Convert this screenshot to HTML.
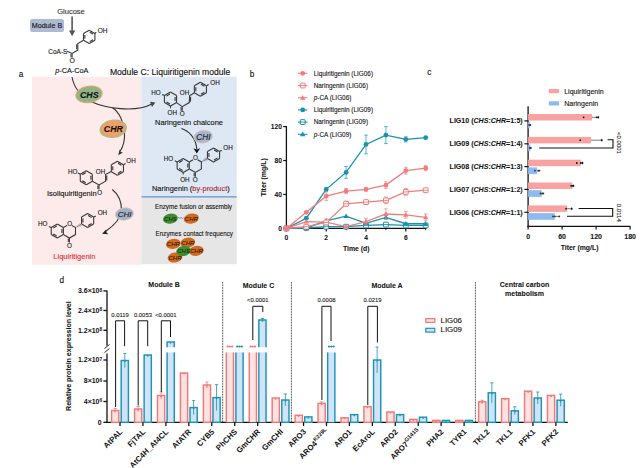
<!DOCTYPE html><html><head><meta charset="utf-8"><style>html,body{margin:0;padding:0;background:#fff;width:640px;height:468px;overflow:hidden;position:relative}svg text{font-family:"Liberation Sans", sans-serif}</style></head><body><svg width="640" height="468" viewBox="0 0 640 468" style="position:absolute;left:0;top:0">
<rect x="0" y="0" width="640" height="468" fill="#fff" stroke="none" stroke-width="0" />
<rect x="32" y="76.7" width="109.3" height="188.1" fill="#FDEAEA" stroke="none" stroke-width="0" />
<rect x="141.3" y="76.7" width="95.4" height="120" fill="#DDE8F4" stroke="none" stroke-width="0" />
<rect x="141.3" y="197.3" width="95.4" height="66.9" fill="#E6E6E6" stroke="none" stroke-width="0" />
<line x1="141.5" y1="196.8" x2="236.7" y2="196.8" stroke="#5B8FD0" stroke-width="1.3" />
<text x="21" y="76.6" font-size="8.2" text-anchor="middle" font-weight="normal" font-style="normal" fill="#111" stroke="#111" stroke-width="0.13" >a</text>
<text x="71" y="14.2" font-size="7.5" text-anchor="middle" font-weight="normal" font-style="normal" fill="#333" stroke="#333" stroke-width="0.12" >Glucose</text>
<rect x="30" y="19" width="34" height="13" rx="2.5" fill="#AEB9D3"/>
<text x="47" y="28.3" font-size="7.2" text-anchor="middle" font-weight="normal" font-style="normal" fill="#111" stroke="#111" stroke-width="0.12" >Module B</text>
<line x1="72.1" y1="16.5" x2="72.1" y2="31" stroke="#555" stroke-width="1.6" />
<path d="M69 30.5L75.3 30.5L72.1 36.3Z" stroke="none" stroke-width="0" fill="#555" />
<text x="48.3" y="53.7" font-size="6.5" text-anchor="start" font-weight="normal" font-style="normal" fill="#111" stroke="#111" stroke-width="0.1" >CoA-S</text>
<path d="M67.2 51.2L72.1 53.4L77.8 50.1L77.8 43.5L83.5 40.2" stroke="#3a3a3a" stroke-width="1.1" fill="none" />
<path d="M76.7 49.31L76.7 44.29" stroke="#3a3a3a" stroke-width="1.1" fill="none" />
<path d="M72.1 53.4L72.1 57.8" stroke="#3a3a3a" stroke-width="1.1" fill="none" />
<path d="M71 53.93L71 57.27" stroke="#3a3a3a" stroke-width="1.1" fill="none" />
<text x="72.1" y="63.35" font-size="6.8" text-anchor="middle" font-weight="normal" font-style="normal" fill="#111" stroke="#111" stroke-width="0.11" >O</text>
<path d="M89.2 30.3L94.92 33.6M94.92 33.6L94.92 40.2M94.92 40.2L89.2 43.5M89.2 43.5L83.48 40.2M83.48 40.2L83.48 33.6M83.48 33.6L89.2 30.3M89.72 32.18L93.02 34.09M93.02 39.71L89.72 41.62M84.86 38.81L84.86 34.99" stroke="#3a3a3a" stroke-width="1.1" fill="none" />
<path d="M94.92 33.6L96.2 32.2" stroke="#3a3a3a" stroke-width="1.1" fill="none" />
<text x="102.6" y="33.34" font-size="6.5" text-anchor="middle" font-weight="normal" font-style="normal" fill="#111" stroke="#111" stroke-width="0.1" >OH</text>
<text x="71.8" y="73.2" font-size="7.3" text-anchor="middle" font-weight="normal" font-style="normal" fill="#111" stroke="#111" stroke-width="0.12" ><tspan font-style="italic">p</tspan>-CA-CoA</text>
<text x="109.9" y="75.1" font-size="8.6" text-anchor="start" font-weight="normal" font-style="normal" fill="#111" stroke="#111" stroke-width="0.14" >Module C: Liquiritigenin module</text>
<path d="M72 77 C 74 88, 82 97, 92 102 C 105 108, 135 113, 152 104" stroke="#333" stroke-width="1.1" fill="none" />
<path d="M150.5 101.3 L155.5 103 L151.5 106.8 Z" stroke="none" stroke-width="0" fill="#444" transform="rotate(-10 153 104)"/>
<path d="M112.5 107.8 C 119 112, 124 122, 124.5 132 C 125 141, 123 147, 120 151.5" stroke="#333" stroke-width="1.1" fill="none" />
<path d="M118.2 155.2 L123 152.6 L120.6 151.9 L119.6 149.6 Z" stroke="none" stroke-width="0" fill="#333" />
<ellipse cx="89" cy="94.4" rx="13.2" ry="8.2" fill="#8EB486" stroke="#EBA572" stroke-width="1.1" transform="rotate(-8 89 94.4)"/>
<text x="89.3" y="97.6" font-size="8.8" text-anchor="middle" font-weight="bold" font-style="italic" fill="#111" stroke="#111" stroke-width="0.07" >CHS</text>
<ellipse cx="113.2" cy="128.8" rx="13.2" ry="8.6" fill="#EF9F6C" stroke="#9AC285" stroke-width="1.1" transform="rotate(-8 113.2 128.8)"/>
<text x="113.4" y="132" font-size="8.8" text-anchor="middle" font-weight="bold" font-style="italic" fill="#111" stroke="#111" stroke-width="0.07" >CHR</text>
<path d="M86.3 170.75L92.32 174.22M92.32 174.22L92.32 181.17M92.32 181.17L86.3 184.65M86.3 184.65L80.28 181.17M80.28 181.17L80.28 174.22M80.28 174.22L86.3 170.75M90.87 175.69L90.87 179.71M85.75 182.67L82.27 180.66M82.27 174.74L85.75 172.73" stroke="#3a3a3a" stroke-width="1.1" fill="none" />
<path d="M92.32 181.17L99 184.9L105.6 181.2L105.6 174.6L111.2 171.6" stroke="#3a3a3a" stroke-width="1.1" fill="none" />
<path d="M106.7 180.41L106.7 175.39" stroke="#3a3a3a" stroke-width="1.1" fill="none" />
<path d="M99 184.9L99 189.5" stroke="#3a3a3a" stroke-width="1.1" fill="none" />
<path d="M97.9 185.45L97.9 188.95" stroke="#3a3a3a" stroke-width="1.1" fill="none" />
<path d="M117.4 161.3L123.46 164.8M123.46 164.8L123.46 171.8M123.46 171.8L117.4 175.3M117.4 175.3L111.34 171.8M111.34 171.8L111.34 164.8M111.34 164.8L117.4 161.3M117.95 163.3L121.45 165.32M121.45 171.28L117.95 173.3M112.79 170.32L112.79 166.28" stroke="#3a3a3a" stroke-width="1.1" fill="none" />
<path d="M123.46 164.8L125.66 163.6" stroke="#3a3a3a" stroke-width="1.1" fill="none" />
<text x="131.06" y="163.47" font-size="6.3" text-anchor="middle" font-weight="normal" font-style="normal" fill="#111" stroke="#111" stroke-width="0.1" >OH</text>
<path d="M80.28 174.22L77.88 173.03" stroke="#3a3a3a" stroke-width="1.1" fill="none" />
<text x="72.68" y="173.69" font-size="6.3" text-anchor="middle" font-weight="normal" font-style="normal" fill="#111" stroke="#111" stroke-width="0.1" >HO</text>
<text x="100.52" y="173.69" font-size="6.3" text-anchor="middle" font-weight="normal" font-style="normal" fill="#111" stroke="#111" stroke-width="0.1" >OH</text>
<text x="99.6" y="194.57" font-size="6.3" text-anchor="middle" font-weight="normal" font-style="normal" fill="#111" stroke="#111" stroke-width="0.1" >O</text>
<text x="71.8" y="195.5" font-size="7.5" text-anchor="middle" font-weight="normal" font-style="normal" fill="#111" stroke="#111" stroke-width="0.12" >Isoliquiritigenin</text>
<path d="M112.3 189.5 C 118 194, 121.5 201, 121.5 210 C 121 219, 112 227, 105.5 231.5" stroke="#333" stroke-width="1.1" fill="none" />
<path d="M102 233.8 L108.3 234.2 L106.3 232.3 L106.2 229.4 Z" stroke="none" stroke-width="0" fill="#222" />
<ellipse cx="124.5" cy="214" rx="9.2" ry="6.2" fill="#A2B2CC" stroke="#E6C8B0" stroke-width="0.8" transform="rotate(-8 124.5 214)"/>
<text x="124.7" y="216.9" font-size="8" text-anchor="middle" font-weight="normal" font-style="italic" fill="#222" stroke="#222" stroke-width="0.13" >CHI</text>
<path d="M57.3 224.1L63.36 227.6M63.36 227.6L63.36 234.6M63.36 234.6L57.3 238.1M57.3 238.1L51.24 234.6M51.24 234.6L51.24 227.6M51.24 227.6L57.3 224.1M61.91 229.08L61.91 233.12M56.75 236.1L53.25 234.08M53.25 228.12L56.75 226.1" stroke="#3a3a3a" stroke-width="1.1" fill="none" />
<path d="M63.36 227.6L69.42 224.1L75.49 227.6L75.49 234.6L69.42 238.1L63.36 234.6" stroke="#3a3a3a" stroke-width="1.1" fill="none" />
<path d="M69.42 238.1L69.42 242.44" stroke="#3a3a3a" stroke-width="1.1" fill="none" />
<path d="M68.32 238.62L68.32 241.92" stroke="#3a3a3a" stroke-width="1.1" fill="none" />
<text x="69.42" y="247.61" font-size="6.3" text-anchor="middle" font-weight="normal" font-style="normal" fill="#111" stroke="#111" stroke-width="0.1" >O</text>
<circle cx="69.42" cy="224.1" r="2.6" fill="#FCE9E9"/>
<text x="69.62" y="226.17" font-size="6.3" text-anchor="middle" font-weight="normal" font-style="normal" fill="#111" stroke="#111" stroke-width="0.1" >O</text>
<path d="M76.24 226.57L76.76 227.47M77.14 225.8L77.87 227.07M78.04 225.02L78.99 226.68M78.94 224.25L80.11 226.28M79.85 223.48L81.23 225.89" stroke="#3a3a3a" stroke-width="0.6" fill="none" />
<path d="M87.61 213.6L93.67 217.1M93.67 217.1L93.67 224.1M93.67 224.1L87.61 227.6M87.61 227.6L81.55 224.1M81.55 224.1L81.55 217.1M81.55 217.1L87.61 213.6M88.16 215.6L91.67 217.62M91.67 223.58L88.16 225.6M83 222.62L83 218.58" stroke="#3a3a3a" stroke-width="1.1" fill="none" />
<path d="M93.67 217.1L95.87 215.9" stroke="#3a3a3a" stroke-width="1.1" fill="none" />
<text x="102.37" y="215.47" font-size="6.3" text-anchor="middle" font-weight="normal" font-style="normal" fill="#111" stroke="#111" stroke-width="0.1" >OH</text>
<path d="M51.24 227.6L48.84 226.4" stroke="#3a3a3a" stroke-width="1.1" fill="none" />
<text x="42.64" y="226.07" font-size="6.3" text-anchor="middle" font-weight="normal" font-style="normal" fill="#111" stroke="#111" stroke-width="0.1" >HO</text>
<text x="74.4" y="258.9" font-size="7.5" text-anchor="middle" font-weight="normal" font-style="normal" fill="#D9303A" stroke="#D9303A" stroke-width="0.12" >Liquiritigenin</text>
<path d="M170.5 92.1L176.56 95.6M176.56 95.6L176.56 102.6M176.56 102.6L170.5 106.1M170.5 106.1L164.44 102.6M164.44 102.6L164.44 95.6M164.44 95.6L170.5 92.1M175.11 97.08L175.11 101.12M169.95 104.1L166.45 102.08M166.45 96.12L169.95 94.1" stroke="#3a3a3a" stroke-width="1.1" fill="none" />
<path d="M176.56 102.6L182.2 106.7L189.3 102.6L189.6 95.8L194.3 92.7" stroke="#3a3a3a" stroke-width="1.1" fill="none" />
<path d="M190.43 101.83L190.66 96.66" stroke="#3a3a3a" stroke-width="1.1" fill="none" />
<path d="M182.2 106.7L182.2 110.9" stroke="#3a3a3a" stroke-width="1.1" fill="none" />
<path d="M181.1 107.2L181.1 110.4" stroke="#3a3a3a" stroke-width="1.1" fill="none" />
<path d="M200.4 82.2L206.46 85.7M206.46 85.7L206.46 92.7M206.46 92.7L200.4 96.2M200.4 96.2L194.34 92.7M194.34 92.7L194.34 85.7M194.34 85.7L200.4 82.2M200.95 84.2L204.45 86.22M204.45 92.18L200.95 94.2M195.79 91.22L195.79 87.18" stroke="#3a3a3a" stroke-width="1.1" fill="none" />
<path d="M206.46 85.7L208.66 84.5" stroke="#3a3a3a" stroke-width="1.1" fill="none" />
<text x="215" y="84.97" font-size="6.3" text-anchor="middle" font-weight="normal" font-style="normal" fill="#111" stroke="#111" stroke-width="0.1" >OH</text>
<path d="M164.44 95.6L162.04 94.4" stroke="#3a3a3a" stroke-width="1.1" fill="none" />
<text x="155.9" y="95.27" font-size="6.3" text-anchor="middle" font-weight="normal" font-style="normal" fill="#111" stroke="#111" stroke-width="0.1" >HO</text>
<text x="184.6" y="94.97" font-size="6.3" text-anchor="middle" font-weight="normal" font-style="normal" fill="#111" stroke="#111" stroke-width="0.1" >OH</text>
<path d="M170.5 106.1L170.5 108.3" stroke="#3a3a3a" stroke-width="1.1" fill="none" />
<text x="172.3" y="115.47" font-size="6.3" text-anchor="middle" font-weight="normal" font-style="normal" fill="#111" stroke="#111" stroke-width="0.1" >OH</text>
<text x="182.2" y="115.67" font-size="6.3" text-anchor="middle" font-weight="normal" font-style="normal" fill="#111" stroke="#111" stroke-width="0.1" >O</text>
<text x="189" y="125.2" font-size="7.45" text-anchor="middle" font-weight="normal" font-style="normal" fill="#111" stroke="#111" stroke-width="0.12" >Naringenin chalcone</text>
<path d="M181.4 128.5 C 189 131, 196 138, 196.8 149" stroke="#333" stroke-width="1.1" fill="none" />
<path d="M193.4 148.2 L196.8 153.4 L200.1 148.2 L196.8 149.6 Z" stroke="none" stroke-width="0" fill="#111" />
<ellipse cx="203.2" cy="136.7" rx="9.4" ry="6.4" fill="#A8B6CF" stroke="#E6C8B0" stroke-width="0.8" transform="rotate(-8 203.2 136.7)"/>
<text x="203.4" y="139.6" font-size="8.2" text-anchor="middle" font-weight="normal" font-style="italic" fill="#222" stroke="#222" stroke-width="0.13" >CHI</text>
<path d="M183.2 158.4L189.26 161.9M189.26 161.9L189.26 168.9M189.26 168.9L183.2 172.4M183.2 172.4L177.14 168.9M177.14 168.9L177.14 161.9M177.14 161.9L183.2 158.4M187.81 163.38L187.81 167.42M182.65 170.4L179.15 168.38M179.15 162.42L182.65 160.4" stroke="#3a3a3a" stroke-width="1.1" fill="none" />
<path d="M189.26 161.9L195.32 158.4L201.39 161.9L201.39 168.9L195.32 172.4L189.26 168.9" stroke="#3a3a3a" stroke-width="1.1" fill="none" />
<path d="M195.32 172.4L195.32 176.74" stroke="#3a3a3a" stroke-width="1.1" fill="none" />
<path d="M194.22 172.92L194.22 176.22" stroke="#3a3a3a" stroke-width="1.1" fill="none" />
<text x="195.32" y="181.91" font-size="6.3" text-anchor="middle" font-weight="normal" font-style="normal" fill="#111" stroke="#111" stroke-width="0.1" >O</text>
<circle cx="195.32" cy="158.4" r="2.6" fill="#DDE8F4"/>
<text x="195.52" y="160.47" font-size="6.3" text-anchor="middle" font-weight="normal" font-style="normal" fill="#111" stroke="#111" stroke-width="0.1" >O</text>
<path d="M202.14 160.87L202.66 161.77M203.04 160.1L203.77 161.37M203.94 159.32L204.89 160.98M204.84 158.55L206.01 160.58M205.75 157.78L207.13 160.19" stroke="#3a3a3a" stroke-width="0.6" fill="none" />
<path d="M213.51 147.9L219.57 151.4M219.57 151.4L219.57 158.4M219.57 158.4L213.51 161.9M213.51 161.9L207.45 158.4M207.45 158.4L207.45 151.4M207.45 151.4L213.51 147.9M214.06 149.9L217.57 151.92M217.57 157.88L214.06 159.9M208.9 156.92L208.9 152.88" stroke="#3a3a3a" stroke-width="1.1" fill="none" />
<path d="M219.57 151.4L221.77 150.2" stroke="#3a3a3a" stroke-width="1.1" fill="none" />
<text x="227.97" y="150.27" font-size="6.3" text-anchor="middle" font-weight="normal" font-style="normal" fill="#111" stroke="#111" stroke-width="0.1" >OH</text>
<path d="M177.14 161.9L174.74 160.7" stroke="#3a3a3a" stroke-width="1.1" fill="none" />
<text x="168.54" y="160.67" font-size="6.3" text-anchor="middle" font-weight="normal" font-style="normal" fill="#111" stroke="#111" stroke-width="0.1" >HO</text>
<path d="M183.2 172.4L183.2 174.6" stroke="#3a3a3a" stroke-width="1.1" fill="none" />
<text x="184.9" y="181.57" font-size="6.3" text-anchor="middle" font-weight="normal" font-style="normal" fill="#111" stroke="#111" stroke-width="0.1" >OH</text>
<text x="152" y="190.7" font-size="7.4" text-anchor="start" font-weight="normal" font-style="normal" fill="#111" stroke="#111" stroke-width="0.12" >Naringenin (<tspan fill="#D9303A">by-product</tspan>)</text>
<text x="193.5" y="208.9" font-size="6.3" text-anchor="middle" font-weight="normal" font-style="normal" fill="#111" stroke="#111" stroke-width="0.1" >Enzyme fusion or assembly</text>
<ellipse cx="170.4" cy="218.6" rx="7.4" ry="5" fill="#3E8E2E" stroke="none" stroke-width="0" transform="rotate(-10 170.4 218.6)"/>
<text x="170.4" y="220.8" font-size="6" text-anchor="middle" font-weight="normal" font-style="italic" fill="#1a2a10" stroke="#1a2a10" stroke-width="0.1" >CHS</text>
<path d="M177.5 218.3 l1.2 -1.2 l1.2 1.6 l1.2 -1.6 l1.2 1.6 l1.2 -1.2" stroke="#4A6AA8" stroke-width="0.6" fill="none" />
<ellipse cx="191.3" cy="218.6" rx="7.6" ry="5.1" fill="#D46A1E" stroke="none" stroke-width="0" transform="rotate(-10 191.3 218.6)"/>
<text x="191.3" y="220.8" font-size="6" text-anchor="middle" font-weight="normal" font-style="italic" fill="#2a1a10" stroke="#2a1a10" stroke-width="0.1" >CHR</text>
<text x="194.3" y="235.7" font-size="6.3" text-anchor="middle" font-weight="normal" font-style="normal" fill="#111" stroke="#111" stroke-width="0.1" >Enzymes contact frequency</text>
<ellipse cx="173.3" cy="243.9" rx="7.4" ry="5" fill="#D46A1E" stroke="none" stroke-width="0" transform="rotate(-10 173.3 243.9)"/>
<text x="173.3" y="246" font-size="6" text-anchor="middle" font-weight="normal" font-style="italic" fill="#2a1a10" stroke="#2a1a10" stroke-width="0.1" >CHR</text>
<ellipse cx="187.8" cy="242.6" rx="7.4" ry="5" fill="#D46A1E" stroke="none" stroke-width="0" transform="rotate(-10 187.8 242.6)"/>
<text x="187.8" y="244.7" font-size="6" text-anchor="middle" font-weight="normal" font-style="italic" fill="#2a1a10" stroke="#2a1a10" stroke-width="0.1" >CHR</text>
<ellipse cx="196.4" cy="250.8" rx="7.4" ry="5" fill="#D46A1E" stroke="none" stroke-width="0" transform="rotate(-10 196.4 250.8)"/>
<text x="196.4" y="252.9" font-size="6" text-anchor="middle" font-weight="normal" font-style="italic" fill="#2a1a10" stroke="#2a1a10" stroke-width="0.1" >CHR</text>
<ellipse cx="175" cy="257.5" rx="7.4" ry="5" fill="#D46A1E" stroke="none" stroke-width="0" transform="rotate(-10 175 257.5)"/>
<text x="175" y="259.6" font-size="6" text-anchor="middle" font-weight="normal" font-style="italic" fill="#2a1a10" stroke="#2a1a10" stroke-width="0.1" >CHR</text>
<ellipse cx="183.6" cy="251" rx="7.4" ry="5" fill="#3E8E2E" stroke="none" stroke-width="0" transform="rotate(-10 183.6 251)"/>
<text x="183.6" y="253.1" font-size="6" text-anchor="middle" font-weight="normal" font-style="italic" fill="#1a2a10" stroke="#1a2a10" stroke-width="0.1" >CHS</text>
<text x="252.1" y="77.2" font-size="8.2" text-anchor="middle" font-weight="normal" font-style="normal" fill="#111" stroke="#111" stroke-width="0.13" >b</text>
<line x1="286.4" y1="126" x2="286.4" y2="229" stroke="#111" stroke-width="1.3" />
<line x1="285.8" y1="228.4" x2="426.5" y2="228.4" stroke="#111" stroke-width="1.3" />
<line x1="283.2" y1="228.4" x2="286.4" y2="228.4" stroke="#111" stroke-width="1.2" />
<text x="282" y="230.8" font-size="6.7" text-anchor="end" font-weight="bold" font-style="normal" fill="#111" stroke="#111" stroke-width="0.05" >0</text>
<line x1="283.2" y1="194.47" x2="286.4" y2="194.47" stroke="#111" stroke-width="1.2" />
<text x="282" y="196.87" font-size="6.7" text-anchor="end" font-weight="bold" font-style="normal" fill="#111" stroke="#111" stroke-width="0.05" >40</text>
<line x1="283.2" y1="160.53" x2="286.4" y2="160.53" stroke="#111" stroke-width="1.2" />
<text x="282" y="162.93" font-size="6.7" text-anchor="end" font-weight="bold" font-style="normal" fill="#111" stroke="#111" stroke-width="0.05" >80</text>
<line x1="283.2" y1="126.6" x2="286.4" y2="126.6" stroke="#111" stroke-width="1.2" />
<text x="282" y="129" font-size="6.7" text-anchor="end" font-weight="bold" font-style="normal" fill="#111" stroke="#111" stroke-width="0.05" >120</text>
<line x1="286.4" y1="228.4" x2="286.4" y2="231.6" stroke="#111" stroke-width="1.2" />
<text x="286.4" y="239.9" font-size="6.7" text-anchor="middle" font-weight="bold" font-style="normal" fill="#111" stroke="#111" stroke-width="0.05" >0</text>
<line x1="326.2" y1="228.4" x2="326.2" y2="231.6" stroke="#111" stroke-width="1.2" />
<text x="326.2" y="239.9" font-size="6.7" text-anchor="middle" font-weight="bold" font-style="normal" fill="#111" stroke="#111" stroke-width="0.05" >2</text>
<line x1="366" y1="228.4" x2="366" y2="231.6" stroke="#111" stroke-width="1.2" />
<text x="366" y="239.9" font-size="6.7" text-anchor="middle" font-weight="bold" font-style="normal" fill="#111" stroke="#111" stroke-width="0.05" >4</text>
<line x1="405.8" y1="228.4" x2="405.8" y2="231.6" stroke="#111" stroke-width="1.2" />
<text x="405.8" y="239.9" font-size="6.7" text-anchor="middle" font-weight="bold" font-style="normal" fill="#111" stroke="#111" stroke-width="0.05" >6</text>
<line x1="306.3" y1="228.4" x2="306.3" y2="230.2" stroke="#111" stroke-width="0.9" />
<line x1="346.1" y1="228.4" x2="346.1" y2="230.2" stroke="#111" stroke-width="0.9" />
<line x1="385.9" y1="228.4" x2="385.9" y2="230.2" stroke="#111" stroke-width="0.9" />
<line x1="425.7" y1="228.4" x2="425.7" y2="230.2" stroke="#111" stroke-width="0.9" />
<text x="356.3" y="250.8" font-size="6.9" text-anchor="middle" font-weight="bold" font-style="normal" fill="#111" stroke="#111" stroke-width="0.06" >Time (d)</text>
<text x="266.3" y="177.3" font-size="7" text-anchor="middle" font-weight="bold" font-style="normal" fill="#111" stroke="#111" stroke-width="0.06" transform="rotate(-90 266.3 177.3)">Titer (mg/L)</text>
<polyline points="286.4,228.4 306.3,227.98 326.2,226.7 346.1,226.7 366,225.43 385.9,224.58 405.8,225.43 425.7,225.43" fill="none" stroke="#1893AD" stroke-width="1.3"/>
<rect x="284" y="226" width="4.8" height="4.8" rx="0.4" fill="#fff" stroke="#1893AD" stroke-width="1"/>
<line x1="284" y1="228.4" x2="288.8" y2="228.4" stroke="#1893AD" stroke-width="0.9" />
<rect x="303.9" y="225.58" width="4.8" height="4.8" rx="0.4" fill="#fff" stroke="#1893AD" stroke-width="1"/>
<line x1="303.9" y1="227.98" x2="308.7" y2="227.98" stroke="#1893AD" stroke-width="0.9" />
<rect x="323.8" y="224.3" width="4.8" height="4.8" rx="0.4" fill="#fff" stroke="#1893AD" stroke-width="1"/>
<line x1="323.8" y1="226.7" x2="328.6" y2="226.7" stroke="#1893AD" stroke-width="0.9" />
<rect x="343.7" y="224.3" width="4.8" height="4.8" rx="0.4" fill="#fff" stroke="#1893AD" stroke-width="1"/>
<line x1="343.7" y1="226.7" x2="348.5" y2="226.7" stroke="#1893AD" stroke-width="0.9" />
<rect x="363.6" y="223.03" width="4.8" height="4.8" rx="0.4" fill="#fff" stroke="#1893AD" stroke-width="1"/>
<line x1="363.6" y1="225.43" x2="368.4" y2="225.43" stroke="#1893AD" stroke-width="0.9" />
<rect x="383.5" y="222.18" width="4.8" height="4.8" rx="0.4" fill="#fff" stroke="#1893AD" stroke-width="1"/>
<line x1="383.5" y1="224.58" x2="388.3" y2="224.58" stroke="#1893AD" stroke-width="0.9" />
<rect x="403.4" y="223.03" width="4.8" height="4.8" rx="0.4" fill="#fff" stroke="#1893AD" stroke-width="1"/>
<line x1="403.4" y1="225.43" x2="408.2" y2="225.43" stroke="#1893AD" stroke-width="0.9" />
<rect x="423.3" y="223.03" width="4.8" height="4.8" rx="0.4" fill="#fff" stroke="#1893AD" stroke-width="1"/>
<line x1="423.3" y1="225.43" x2="428.1" y2="225.43" stroke="#1893AD" stroke-width="0.9" />
<polyline points="286.4,228.4 306.3,227.98 326.2,220.77 346.1,216.1 366,223.31 385.9,217.37 405.8,223.73 425.7,223.73" fill="none" stroke="#1893AD" stroke-width="1.3"/>
<line x1="385.9" y1="215.68" x2="385.9" y2="219.07" stroke="#1893AD" stroke-width="0.7" />
<line x1="384.1" y1="215.68" x2="387.7" y2="215.68" stroke="#1893AD" stroke-width="0.7" />
<line x1="384.1" y1="219.07" x2="387.7" y2="219.07" stroke="#1893AD" stroke-width="0.7" />
<path d="M286.4 225.7L289.1 230.4L283.7 230.4Z" fill="#1893AD"/>
<path d="M306.3 225.28L309 229.98L303.6 229.98Z" fill="#1893AD"/>
<path d="M326.2 218.07L328.9 222.77L323.5 222.77Z" fill="#1893AD"/>
<path d="M346.1 213.4L348.8 218.1L343.4 218.1Z" fill="#1893AD"/>
<path d="M366 220.61L368.7 225.31L363.3 225.31Z" fill="#1893AD"/>
<path d="M385.9 214.67L388.6 219.37L383.2 219.37Z" fill="#1893AD"/>
<path d="M405.8 221.03L408.5 225.73L403.1 225.73Z" fill="#1893AD"/>
<path d="M425.7 221.03L428.4 225.73L423 225.73Z" fill="#1893AD"/>
<polyline points="286.4,228.4 306.3,218.22 326.2,189.38 346.1,172.41 366,144.42 385.9,135.08 405.8,139.32 425.7,137.63" fill="none" stroke="#1893AD" stroke-width="1.3"/>
<line x1="326.2" y1="187.68" x2="326.2" y2="191.07" stroke="#1893AD" stroke-width="0.7" />
<line x1="324.4" y1="187.68" x2="328" y2="187.68" stroke="#1893AD" stroke-width="0.7" />
<line x1="324.4" y1="191.07" x2="328" y2="191.07" stroke="#1893AD" stroke-width="0.7" />
<line x1="346.1" y1="166.47" x2="346.1" y2="178.35" stroke="#1893AD" stroke-width="0.7" />
<line x1="344.3" y1="166.47" x2="347.9" y2="166.47" stroke="#1893AD" stroke-width="0.7" />
<line x1="344.3" y1="178.35" x2="347.9" y2="178.35" stroke="#1893AD" stroke-width="0.7" />
<line x1="366" y1="135.08" x2="366" y2="153.75" stroke="#1893AD" stroke-width="0.7" />
<line x1="364.2" y1="135.08" x2="367.8" y2="135.08" stroke="#1893AD" stroke-width="0.7" />
<line x1="364.2" y1="153.75" x2="367.8" y2="153.75" stroke="#1893AD" stroke-width="0.7" />
<line x1="385.9" y1="126.6" x2="385.9" y2="143.57" stroke="#1893AD" stroke-width="0.7" />
<line x1="384.1" y1="126.6" x2="387.7" y2="126.6" stroke="#1893AD" stroke-width="0.7" />
<line x1="384.1" y1="143.57" x2="387.7" y2="143.57" stroke="#1893AD" stroke-width="0.7" />
<line x1="405.8" y1="136.78" x2="405.8" y2="141.87" stroke="#1893AD" stroke-width="0.7" />
<line x1="404" y1="136.78" x2="407.6" y2="136.78" stroke="#1893AD" stroke-width="0.7" />
<line x1="404" y1="141.87" x2="407.6" y2="141.87" stroke="#1893AD" stroke-width="0.7" />
<circle cx="286.4" cy="228.4" r="2.4" fill="#1893AD"/>
<circle cx="306.3" cy="218.22" r="2.4" fill="#1893AD"/>
<circle cx="326.2" cy="189.38" r="2.4" fill="#1893AD"/>
<circle cx="346.1" cy="172.41" r="2.4" fill="#1893AD"/>
<circle cx="366" cy="144.42" r="2.4" fill="#1893AD"/>
<circle cx="385.9" cy="135.08" r="2.4" fill="#1893AD"/>
<circle cx="405.8" cy="139.32" r="2.4" fill="#1893AD"/>
<circle cx="425.7" cy="137.63" r="2.4" fill="#1893AD"/>
<polyline points="286.4,228.4 306.3,221.61 326.2,222.04 346.1,226.7 366,221.61 385.9,213.98 405.8,214.83 425.7,217.37" fill="none" stroke="#F27C7C" stroke-width="1.3"/>
<line x1="326.2" y1="219.07" x2="326.2" y2="225.01" stroke="#F27C7C" stroke-width="0.7" />
<line x1="324.4" y1="219.07" x2="328" y2="219.07" stroke="#F27C7C" stroke-width="0.7" />
<line x1="324.4" y1="225.01" x2="328" y2="225.01" stroke="#F27C7C" stroke-width="0.7" />
<line x1="366" y1="218.22" x2="366" y2="225.01" stroke="#F27C7C" stroke-width="0.7" />
<line x1="364.2" y1="218.22" x2="367.8" y2="218.22" stroke="#F27C7C" stroke-width="0.7" />
<line x1="364.2" y1="225.01" x2="367.8" y2="225.01" stroke="#F27C7C" stroke-width="0.7" />
<line x1="385.9" y1="208.89" x2="385.9" y2="219.07" stroke="#F27C7C" stroke-width="0.7" />
<line x1="384.1" y1="208.89" x2="387.7" y2="208.89" stroke="#F27C7C" stroke-width="0.7" />
<line x1="384.1" y1="219.07" x2="387.7" y2="219.07" stroke="#F27C7C" stroke-width="0.7" />
<line x1="405.8" y1="211.43" x2="405.8" y2="218.22" stroke="#F27C7C" stroke-width="0.7" />
<line x1="404" y1="211.43" x2="407.6" y2="211.43" stroke="#F27C7C" stroke-width="0.7" />
<line x1="404" y1="218.22" x2="407.6" y2="218.22" stroke="#F27C7C" stroke-width="0.7" />
<line x1="425.7" y1="213.98" x2="425.7" y2="220.77" stroke="#F27C7C" stroke-width="0.7" />
<line x1="423.9" y1="213.98" x2="427.5" y2="213.98" stroke="#F27C7C" stroke-width="0.7" />
<line x1="423.9" y1="220.77" x2="427.5" y2="220.77" stroke="#F27C7C" stroke-width="0.7" />
<path d="M286.4 225.7L289.1 230.4L283.7 230.4Z" fill="#F27C7C"/>
<path d="M306.3 218.91L309 223.61L303.6 223.61Z" fill="#F27C7C"/>
<path d="M326.2 219.34L328.9 224.04L323.5 224.04Z" fill="#F27C7C"/>
<path d="M346.1 224L348.8 228.7L343.4 228.7Z" fill="#F27C7C"/>
<path d="M366 218.91L368.7 223.61L363.3 223.61Z" fill="#F27C7C"/>
<path d="M385.9 211.28L388.6 215.98L383.2 215.98Z" fill="#F27C7C"/>
<path d="M405.8 212.13L408.5 216.83L403.1 216.83Z" fill="#F27C7C"/>
<path d="M425.7 214.67L428.4 219.37L423 219.37Z" fill="#F27C7C"/>
<polyline points="286.4,228.4 306.3,226.7 326.2,222.46 346.1,203.8 366,202.1 385.9,200.41 405.8,191.92 425.7,190.22" fill="none" stroke="#F27C7C" stroke-width="1.3"/>
<line x1="346.1" y1="201.25" x2="346.1" y2="206.34" stroke="#F27C7C" stroke-width="0.7" />
<line x1="344.3" y1="201.25" x2="347.9" y2="201.25" stroke="#F27C7C" stroke-width="0.7" />
<line x1="344.3" y1="206.34" x2="347.9" y2="206.34" stroke="#F27C7C" stroke-width="0.7" />
<line x1="366" y1="200.41" x2="366" y2="203.8" stroke="#F27C7C" stroke-width="0.7" />
<line x1="364.2" y1="200.41" x2="367.8" y2="200.41" stroke="#F27C7C" stroke-width="0.7" />
<line x1="364.2" y1="203.8" x2="367.8" y2="203.8" stroke="#F27C7C" stroke-width="0.7" />
<line x1="385.9" y1="197.01" x2="385.9" y2="203.8" stroke="#F27C7C" stroke-width="0.7" />
<line x1="384.1" y1="197.01" x2="387.7" y2="197.01" stroke="#F27C7C" stroke-width="0.7" />
<line x1="384.1" y1="203.8" x2="387.7" y2="203.8" stroke="#F27C7C" stroke-width="0.7" />
<line x1="405.8" y1="188.53" x2="405.8" y2="195.31" stroke="#F27C7C" stroke-width="0.7" />
<line x1="404" y1="188.53" x2="407.6" y2="188.53" stroke="#F27C7C" stroke-width="0.7" />
<line x1="404" y1="195.31" x2="407.6" y2="195.31" stroke="#F27C7C" stroke-width="0.7" />
<line x1="425.7" y1="188.53" x2="425.7" y2="191.92" stroke="#F27C7C" stroke-width="0.7" />
<line x1="423.9" y1="188.53" x2="427.5" y2="188.53" stroke="#F27C7C" stroke-width="0.7" />
<line x1="423.9" y1="191.92" x2="427.5" y2="191.92" stroke="#F27C7C" stroke-width="0.7" />
<rect x="284" y="226" width="4.8" height="4.8" rx="0.4" fill="#fff" stroke="#F27C7C" stroke-width="1"/>
<line x1="284" y1="228.4" x2="288.8" y2="228.4" stroke="#F27C7C" stroke-width="0.9" />
<rect x="303.9" y="224.3" width="4.8" height="4.8" rx="0.4" fill="#fff" stroke="#F27C7C" stroke-width="1"/>
<line x1="303.9" y1="226.7" x2="308.7" y2="226.7" stroke="#F27C7C" stroke-width="0.9" />
<rect x="323.8" y="220.06" width="4.8" height="4.8" rx="0.4" fill="#fff" stroke="#F27C7C" stroke-width="1"/>
<line x1="323.8" y1="222.46" x2="328.6" y2="222.46" stroke="#F27C7C" stroke-width="0.9" />
<rect x="343.7" y="201.4" width="4.8" height="4.8" rx="0.4" fill="#fff" stroke="#F27C7C" stroke-width="1"/>
<line x1="343.7" y1="203.8" x2="348.5" y2="203.8" stroke="#F27C7C" stroke-width="0.9" />
<rect x="363.6" y="199.7" width="4.8" height="4.8" rx="0.4" fill="#fff" stroke="#F27C7C" stroke-width="1"/>
<line x1="363.6" y1="202.1" x2="368.4" y2="202.1" stroke="#F27C7C" stroke-width="0.9" />
<rect x="383.5" y="198" width="4.8" height="4.8" rx="0.4" fill="#fff" stroke="#F27C7C" stroke-width="1"/>
<line x1="383.5" y1="200.41" x2="388.3" y2="200.41" stroke="#F27C7C" stroke-width="0.9" />
<rect x="403.4" y="189.52" width="4.8" height="4.8" rx="0.4" fill="#fff" stroke="#F27C7C" stroke-width="1"/>
<line x1="403.4" y1="191.92" x2="408.2" y2="191.92" stroke="#F27C7C" stroke-width="0.9" />
<rect x="423.3" y="187.82" width="4.8" height="4.8" rx="0.4" fill="#fff" stroke="#F27C7C" stroke-width="1"/>
<line x1="423.3" y1="190.22" x2="428.1" y2="190.22" stroke="#F27C7C" stroke-width="0.9" />
<polyline points="286.4,228.4 306.3,212.28 326.2,196.16 346.1,191.07 366,189.38 385.9,185.13 405.8,170.71 425.7,168.17" fill="none" stroke="#F27C7C" stroke-width="1.3"/>
<line x1="326.2" y1="191.92" x2="326.2" y2="200.41" stroke="#F27C7C" stroke-width="0.7" />
<line x1="324.4" y1="191.92" x2="328" y2="191.92" stroke="#F27C7C" stroke-width="0.7" />
<line x1="324.4" y1="200.41" x2="328" y2="200.41" stroke="#F27C7C" stroke-width="0.7" />
<line x1="346.1" y1="188.53" x2="346.1" y2="193.62" stroke="#F27C7C" stroke-width="0.7" />
<line x1="344.3" y1="188.53" x2="347.9" y2="188.53" stroke="#F27C7C" stroke-width="0.7" />
<line x1="344.3" y1="193.62" x2="347.9" y2="193.62" stroke="#F27C7C" stroke-width="0.7" />
<line x1="366" y1="187.68" x2="366" y2="191.07" stroke="#F27C7C" stroke-width="0.7" />
<line x1="364.2" y1="187.68" x2="367.8" y2="187.68" stroke="#F27C7C" stroke-width="0.7" />
<line x1="364.2" y1="191.07" x2="367.8" y2="191.07" stroke="#F27C7C" stroke-width="0.7" />
<line x1="385.9" y1="181.74" x2="385.9" y2="188.53" stroke="#F27C7C" stroke-width="0.7" />
<line x1="384.1" y1="181.74" x2="387.7" y2="181.74" stroke="#F27C7C" stroke-width="0.7" />
<line x1="384.1" y1="188.53" x2="387.7" y2="188.53" stroke="#F27C7C" stroke-width="0.7" />
<line x1="405.8" y1="167.32" x2="405.8" y2="174.11" stroke="#F27C7C" stroke-width="0.7" />
<line x1="404" y1="167.32" x2="407.6" y2="167.32" stroke="#F27C7C" stroke-width="0.7" />
<line x1="404" y1="174.11" x2="407.6" y2="174.11" stroke="#F27C7C" stroke-width="0.7" />
<line x1="425.7" y1="165.62" x2="425.7" y2="170.71" stroke="#F27C7C" stroke-width="0.7" />
<line x1="423.9" y1="165.62" x2="427.5" y2="165.62" stroke="#F27C7C" stroke-width="0.7" />
<line x1="423.9" y1="170.71" x2="427.5" y2="170.71" stroke="#F27C7C" stroke-width="0.7" />
<circle cx="286.4" cy="228.4" r="2.4" fill="#F27C7C"/>
<circle cx="306.3" cy="212.28" r="2.4" fill="#F27C7C"/>
<circle cx="326.2" cy="196.16" r="2.4" fill="#F27C7C"/>
<circle cx="346.1" cy="191.07" r="2.4" fill="#F27C7C"/>
<circle cx="366" cy="189.38" r="2.4" fill="#F27C7C"/>
<circle cx="385.9" cy="185.13" r="2.4" fill="#F27C7C"/>
<circle cx="405.8" cy="170.71" r="2.4" fill="#F27C7C"/>
<circle cx="425.7" cy="168.17" r="2.4" fill="#F27C7C"/>
<line x1="298" y1="73.3" x2="307.4" y2="73.3" stroke="#F27C7C" stroke-width="1.1" />
<circle cx="302.7" cy="73.3" r="2.4" fill="#F27C7C"/>
<text x="313.7" y="75.5" font-size="6.4" text-anchor="start" font-weight="normal" font-style="normal" fill="#111" stroke="#111" stroke-width="0.1" >Liquiritigenin (LIG06)</text>
<line x1="298" y1="85.5" x2="307.4" y2="85.5" stroke="#F27C7C" stroke-width="1.1" />
<rect x="300.3" y="83.1" width="4.8" height="4.8" rx="0.4" fill="#fff" stroke="#F27C7C" stroke-width="1"/>
<line x1="300.3" y1="85.5" x2="305.1" y2="85.5" stroke="#F27C7C" stroke-width="0.9" />
<text x="313.7" y="87.7" font-size="6.4" text-anchor="start" font-weight="normal" font-style="normal" fill="#111" stroke="#111" stroke-width="0.1" >Naringenin (LIG06)</text>
<line x1="298" y1="97.7" x2="307.4" y2="97.7" stroke="#F27C7C" stroke-width="1.1" />
<path d="M302.7 95L305.4 99.7L300 99.7Z" fill="#F27C7C"/>
<text x="313.7" y="99.9" font-size="6.4" text-anchor="start" font-weight="normal" font-style="normal" fill="#111" stroke="#111" stroke-width="0.1" ><tspan font-style="italic">p</tspan>-CA (LIG06)</text>
<line x1="298" y1="109.9" x2="307.4" y2="109.9" stroke="#1893AD" stroke-width="1.1" />
<circle cx="302.7" cy="109.9" r="2.4" fill="#1893AD"/>
<text x="313.7" y="112.1" font-size="6.4" text-anchor="start" font-weight="normal" font-style="normal" fill="#111" stroke="#111" stroke-width="0.1" >Liquiritigenin (LIG09)</text>
<line x1="298" y1="122.1" x2="307.4" y2="122.1" stroke="#1893AD" stroke-width="1.1" />
<rect x="300.3" y="119.7" width="4.8" height="4.8" rx="0.4" fill="#fff" stroke="#1893AD" stroke-width="1"/>
<line x1="300.3" y1="122.1" x2="305.1" y2="122.1" stroke="#1893AD" stroke-width="0.9" />
<text x="313.7" y="124.3" font-size="6.4" text-anchor="start" font-weight="normal" font-style="normal" fill="#111" stroke="#111" stroke-width="0.1" >Naringenin (LIG09)</text>
<line x1="298" y1="134.3" x2="307.4" y2="134.3" stroke="#1893AD" stroke-width="1.1" />
<path d="M302.7 131.6L305.4 136.3L300 136.3Z" fill="#1893AD"/>
<text x="313.7" y="136.5" font-size="6.4" text-anchor="start" font-weight="normal" font-style="normal" fill="#111" stroke="#111" stroke-width="0.1" ><tspan font-style="italic">p</tspan>-CA (LIG09)</text>
<text x="429.3" y="75.3" font-size="8.2" text-anchor="middle" font-weight="normal" font-style="normal" fill="#111" stroke="#111" stroke-width="0.13" >c</text>
<line x1="528.1" y1="106.2" x2="528.1" y2="226.9" stroke="#111" stroke-width="1.3" />
<line x1="527.5" y1="226.3" x2="630.3" y2="226.3" stroke="#111" stroke-width="1.3" />
<line x1="528.1" y1="226.3" x2="528.1" y2="229.5" stroke="#111" stroke-width="1.2" />
<text x="528.1" y="238.5" font-size="7" text-anchor="middle" font-weight="bold" font-style="normal" fill="#111" stroke="#111" stroke-width="0.06" >0</text>
<line x1="562.1" y1="226.3" x2="562.1" y2="229.5" stroke="#111" stroke-width="1.2" />
<text x="562.1" y="238.5" font-size="7" text-anchor="middle" font-weight="bold" font-style="normal" fill="#111" stroke="#111" stroke-width="0.06" >60</text>
<line x1="596.1" y1="226.3" x2="596.1" y2="229.5" stroke="#111" stroke-width="1.2" />
<text x="596.1" y="238.5" font-size="7" text-anchor="middle" font-weight="bold" font-style="normal" fill="#111" stroke="#111" stroke-width="0.06" >120</text>
<line x1="630.1" y1="226.3" x2="630.1" y2="229.5" stroke="#111" stroke-width="1.2" />
<text x="630.1" y="238.5" font-size="7" text-anchor="middle" font-weight="bold" font-style="normal" fill="#111" stroke="#111" stroke-width="0.06" >180</text>
<text x="579.6" y="249.5" font-size="6.9" text-anchor="middle" font-weight="bold" font-style="normal" fill="#111" stroke="#111" stroke-width="0.06" >Titer (mg/L)</text>
<rect x="528.1" y="114" width="64.03" height="6.5" fill="#F9A2A2" stroke="none" stroke-width="0" />
<rect x="528.1" y="121.7" width="1.7" height="6.7" fill="#8DBAF0" stroke="none" stroke-width="0" />
<line x1="524.4" y1="120.9" x2="528.1" y2="120.9" stroke="#111" stroke-width="1.2" />
<text x="522.7" y="123.4" font-size="7.05" text-anchor="end" font-weight="bold" font-style="normal" fill="#111" stroke="#111" stroke-width="0.06" >LIG10 (<tspan font-style="italic">CHS</tspan>:<tspan font-style="italic">CHR</tspan>=1:5)</text>
<line x1="592.13" y1="117.3" x2="598.37" y2="117.3" stroke="#222" stroke-width="0.6" />
<line x1="598.37" y1="115.9" x2="598.37" y2="118.7" stroke="#222" stroke-width="0.6" />
<circle cx="583.63" cy="117.3" r="0.9" fill="#111"/>
<circle cx="596.67" cy="117.3" r="0.9" fill="#111"/>
<circle cx="598.37" cy="117.3" r="0.9" fill="#111"/>
<line x1="529.8" y1="125" x2="530.37" y2="125" stroke="#222" stroke-width="0.6" />
<circle cx="529.23" cy="125" r="0.9" fill="#333"/>
<circle cx="530.37" cy="125" r="0.9" fill="#333"/>
<rect x="528.1" y="136.9" width="62.9" height="6.5" fill="#F9A2A2" stroke="none" stroke-width="0" />
<rect x="528.1" y="144.6" width="2.27" height="6.7" fill="#8DBAF0" stroke="none" stroke-width="0" />
<line x1="524.4" y1="143.8" x2="528.1" y2="143.8" stroke="#111" stroke-width="1.2" />
<text x="522.7" y="146.3" font-size="7.05" text-anchor="end" font-weight="bold" font-style="normal" fill="#111" stroke="#111" stroke-width="0.06" >LIG09 (<tspan font-style="italic">CHS</tspan>:<tspan font-style="italic">CHR</tspan>=1:4)</text>
<line x1="591" y1="140.2" x2="601.77" y2="140.2" stroke="#222" stroke-width="0.6" />
<line x1="601.77" y1="138.8" x2="601.77" y2="141.6" stroke="#222" stroke-width="0.6" />
<circle cx="580.23" cy="140.2" r="0.9" fill="#111"/>
<circle cx="601.77" cy="140.2" r="0.9" fill="#111"/>
<line x1="530.37" y1="147.9" x2="530.93" y2="147.9" stroke="#222" stroke-width="0.6" />
<circle cx="529.8" cy="147.9" r="0.9" fill="#333"/>
<circle cx="530.37" cy="147.9" r="0.9" fill="#333"/>
<circle cx="530.93" cy="147.9" r="0.9" fill="#333"/>
<rect x="528.1" y="159.7" width="52.7" height="6.5" fill="#F9A2A2" stroke="none" stroke-width="0" />
<rect x="528.1" y="167.4" width="9.07" height="6.7" fill="#8DBAF0" stroke="none" stroke-width="0" />
<line x1="524.4" y1="166.6" x2="528.1" y2="166.6" stroke="#111" stroke-width="1.2" />
<text x="522.7" y="169.1" font-size="7.05" text-anchor="end" font-weight="bold" font-style="normal" fill="#111" stroke="#111" stroke-width="0.06" >LIG08 (<tspan font-style="italic">CHS</tspan>:<tspan font-style="italic">CHR</tspan>=1:3)</text>
<line x1="580.8" y1="163" x2="582.5" y2="163" stroke="#222" stroke-width="0.6" />
<line x1="582.5" y1="161.6" x2="582.5" y2="164.4" stroke="#222" stroke-width="0.6" />
<circle cx="576.83" cy="163" r="0.9" fill="#111"/>
<circle cx="580.8" cy="163" r="0.9" fill="#111"/>
<circle cx="582.5" cy="163" r="0.9" fill="#111"/>
<line x1="537.17" y1="170.7" x2="539.43" y2="170.7" stroke="#222" stroke-width="0.6" />
<circle cx="534.9" cy="170.7" r="0.9" fill="#333"/>
<circle cx="538.3" cy="170.7" r="0.9" fill="#333"/>
<circle cx="539.43" cy="170.7" r="0.9" fill="#333"/>
<rect x="528.1" y="182.5" width="44.2" height="6.5" fill="#F9A2A2" stroke="none" stroke-width="0" />
<rect x="528.1" y="190.2" width="13.6" height="6.7" fill="#8DBAF0" stroke="none" stroke-width="0" />
<line x1="524.4" y1="189.4" x2="528.1" y2="189.4" stroke="#111" stroke-width="1.2" />
<text x="522.7" y="191.9" font-size="7.05" text-anchor="end" font-weight="bold" font-style="normal" fill="#111" stroke="#111" stroke-width="0.06" >LIG07 (<tspan font-style="italic">CHS</tspan>:<tspan font-style="italic">CHR</tspan>=1:2)</text>
<line x1="572.3" y1="185.8" x2="573.43" y2="185.8" stroke="#222" stroke-width="0.6" />
<line x1="573.43" y1="184.4" x2="573.43" y2="187.2" stroke="#222" stroke-width="0.6" />
<circle cx="571.17" cy="185.8" r="0.9" fill="#111"/>
<circle cx="572.3" cy="185.8" r="0.9" fill="#111"/>
<circle cx="573.43" cy="185.8" r="0.9" fill="#111"/>
<line x1="541.7" y1="193.5" x2="543.4" y2="193.5" stroke="#222" stroke-width="0.6" />
<circle cx="540.57" cy="193.5" r="0.9" fill="#333"/>
<circle cx="542.27" cy="193.5" r="0.9" fill="#333"/>
<circle cx="543.4" cy="193.5" r="0.9" fill="#333"/>
<rect x="528.1" y="205.4" width="39.1" height="6.5" fill="#F9A2A2" stroke="none" stroke-width="0" />
<rect x="528.1" y="213.1" width="26.63" height="6.7" fill="#8DBAF0" stroke="none" stroke-width="0" />
<line x1="524.4" y1="212.3" x2="528.1" y2="212.3" stroke="#111" stroke-width="1.2" />
<text x="522.7" y="214.8" font-size="7.05" text-anchor="end" font-weight="bold" font-style="normal" fill="#111" stroke="#111" stroke-width="0.06" >LIG06 (<tspan font-style="italic">CHS</tspan>:<tspan font-style="italic">CHR</tspan>=1:1)</text>
<line x1="567.2" y1="208.7" x2="571.73" y2="208.7" stroke="#222" stroke-width="0.6" />
<line x1="571.73" y1="207.3" x2="571.73" y2="210.1" stroke="#222" stroke-width="0.6" />
<circle cx="566.07" cy="208.7" r="0.9" fill="#111"/>
<circle cx="571.73" cy="208.7" r="0.9" fill="#111"/>
<line x1="554.73" y1="216.4" x2="559.27" y2="216.4" stroke="#222" stroke-width="0.6" />
<circle cx="553.03" cy="216.4" r="0.9" fill="#333"/>
<circle cx="554.73" cy="216.4" r="0.9" fill="#333"/>
<circle cx="559.27" cy="216.4" r="0.9" fill="#333"/>
<rect x="548.8" y="89" width="10.3" height="4.2" fill="#F9A2A2" stroke="none" stroke-width="0" />
<text x="564.2" y="93.6" font-size="7.05" text-anchor="start" font-weight="normal" font-style="normal" fill="#111" stroke="#111" stroke-width="0.11" >Liquiritigenin</text>
<rect x="548.8" y="101.3" width="10.3" height="4.2" fill="#8DBAF0" stroke="none" stroke-width="0" />
<text x="564.2" y="106" font-size="7.05" text-anchor="start" font-weight="normal" font-style="normal" fill="#111" stroke="#111" stroke-width="0.11" >Naringenin</text>
<polyline points="607.6,139.8 613,139.8 613,148 539.2,148" fill="none" stroke="#111" stroke-width="1.1"/>
<polyline points="578.6,208.5 612.7,208.5 612.7,216.2 567,216.2" fill="none" stroke="#111" stroke-width="1.1"/>
<text x="618.7" y="143" font-size="6" text-anchor="middle" font-weight="normal" font-style="normal" fill="#222" stroke="#222" stroke-width="0.1" transform="rotate(90 618.7 143)" dominant-baseline="central">&lt;0.0001</text>
<text x="618.5" y="212.8" font-size="6" text-anchor="middle" font-weight="normal" font-style="normal" fill="#222" stroke="#222" stroke-width="0.1" transform="rotate(90 618.5 212.8)" dominant-baseline="central">0.0114</text>
<text x="61.8" y="283.3" font-size="8.2" text-anchor="middle" font-weight="normal" font-style="normal" fill="#111" stroke="#111" stroke-width="0.13" >d</text>
<line x1="107" y1="290.4" x2="107" y2="345.8" stroke="#111" stroke-width="1.3" />
<line x1="107" y1="353.5" x2="107" y2="422.9" stroke="#111" stroke-width="1.3" />
<line x1="104.5" y1="348.5" x2="109.5" y2="344.5" stroke="#111" stroke-width="0.9" />
<line x1="104.5" y1="352.5" x2="109.5" y2="348.5" stroke="#111" stroke-width="0.9" />
<line x1="106.4" y1="422.3" x2="567.8" y2="422.3" stroke="#111" stroke-width="1.3" />
<line x1="103.4" y1="290.9" x2="107" y2="290.9" stroke="#111" stroke-width="1.3" />
<text x="102.2" y="293.3" font-size="7" font-weight="bold" text-anchor="end" fill="#111">3.6×10<tspan font-size="4.8" dy="-1.7">8</tspan></text>
<line x1="103.4" y1="310.5" x2="107" y2="310.5" stroke="#111" stroke-width="1.3" />
<text x="102.2" y="312.9" font-size="7" font-weight="bold" text-anchor="end" fill="#111">2.4×10<tspan font-size="4.8" dy="-1.7">8</tspan></text>
<line x1="103.4" y1="330.3" x2="107" y2="330.3" stroke="#111" stroke-width="1.3" />
<text x="102.2" y="332.7" font-size="7" font-weight="bold" text-anchor="end" fill="#111">1.2×10<tspan font-size="4.8" dy="-1.7">8</tspan></text>
<line x1="103.4" y1="360" x2="107" y2="360" stroke="#111" stroke-width="1.3" />
<text x="102.2" y="362.4" font-size="7" font-weight="bold" text-anchor="end" fill="#111">1.2×10<tspan font-size="4.8" dy="-1.7">7</tspan></text>
<line x1="103.4" y1="381" x2="107" y2="381" stroke="#111" stroke-width="1.3" />
<text x="102.2" y="383.4" font-size="7" font-weight="bold" text-anchor="end" fill="#111">8×10<tspan font-size="4.8" dy="-1.7">6</tspan></text>
<line x1="103.4" y1="401.5" x2="107" y2="401.5" stroke="#111" stroke-width="1.3" />
<text x="102.2" y="403.9" font-size="7" font-weight="bold" text-anchor="end" fill="#111">4×10<tspan font-size="4.8" dy="-1.7">6</tspan></text>
<line x1="103.4" y1="422.3" x2="107" y2="422.3" stroke="#111" stroke-width="1.3" />
<text x="101.5" y="424.8" font-size="6.8" text-anchor="end" font-weight="bold" font-style="normal" fill="#111" stroke="#111" stroke-width="0.05" >0</text>
<text x="70.6" y="356.1" font-size="7.05" text-anchor="middle" font-weight="bold" font-style="normal" fill="#111" stroke="#111" stroke-width="0.06" transform="rotate(-90 70.6 356.1)">Relative protein expression level</text>
<line x1="120" y1="422.3" x2="120" y2="426.1" stroke="#111" stroke-width="1.3" />
<text x="123" y="432.3" font-size="7.8" font-weight="bold" text-anchor="end" fill="#111" transform="rotate(-45 123 432.3)">AtPAL</text>
<line x1="142.94" y1="422.3" x2="142.94" y2="426.1" stroke="#111" stroke-width="1.3" />
<text x="145.94" y="432.3" font-size="7.8" font-weight="bold" text-anchor="end" fill="#111" transform="rotate(-45 145.94 432.3)">FjTAL</text>
<line x1="165.88" y1="422.3" x2="165.88" y2="426.1" stroke="#111" stroke-width="1.3" />
<text x="168.88" y="432.3" font-size="7.8" font-weight="bold" text-anchor="end" fill="#111" transform="rotate(-45 168.88 432.3)">AtC4H_At4CL</text>
<line x1="188.82" y1="422.3" x2="188.82" y2="426.1" stroke="#111" stroke-width="1.3" />
<text x="191.82" y="432.3" font-size="7.8" font-weight="bold" text-anchor="end" fill="#111" transform="rotate(-45 191.82 432.3)">AtATR</text>
<line x1="211.76" y1="422.3" x2="211.76" y2="426.1" stroke="#111" stroke-width="1.3" />
<text x="214.76" y="432.3" font-size="7.8" font-weight="bold" text-anchor="end" fill="#111" transform="rotate(-45 214.76 432.3)">CYB5</text>
<line x1="234.7" y1="422.3" x2="234.7" y2="426.1" stroke="#111" stroke-width="1.3" />
<text x="237.7" y="432.3" font-size="7.8" font-weight="bold" text-anchor="end" fill="#111" transform="rotate(-45 237.7 432.3)">PhCHS</text>
<line x1="257.64" y1="422.3" x2="257.64" y2="426.1" stroke="#111" stroke-width="1.3" />
<text x="260.64" y="432.3" font-size="7.8" font-weight="bold" text-anchor="end" fill="#111" transform="rotate(-45 260.64 432.3)">GmCHR</text>
<line x1="280.58" y1="422.3" x2="280.58" y2="426.1" stroke="#111" stroke-width="1.3" />
<text x="283.58" y="432.3" font-size="7.8" font-weight="bold" text-anchor="end" fill="#111" transform="rotate(-45 283.58 432.3)">GmCHI</text>
<line x1="303.52" y1="422.3" x2="303.52" y2="426.1" stroke="#111" stroke-width="1.3" />
<text x="306.52" y="432.3" font-size="7.8" font-weight="bold" text-anchor="end" fill="#111" transform="rotate(-45 306.52 432.3)">ARO3</text>
<line x1="326.46" y1="422.3" x2="326.46" y2="426.1" stroke="#111" stroke-width="1.3" />
<text x="329.46" y="432.3" font-size="7.8" font-weight="bold" text-anchor="end" fill="#111" transform="rotate(-45 329.46 432.3)">ARO4<tspan font-size="5.6" dy="-3.4">K229L</tspan></text>
<line x1="349.4" y1="422.3" x2="349.4" y2="426.1" stroke="#111" stroke-width="1.3" />
<text x="352.4" y="432.3" font-size="7.8" font-weight="bold" text-anchor="end" fill="#111" transform="rotate(-45 352.4 432.3)">ARO1</text>
<line x1="372.34" y1="422.3" x2="372.34" y2="426.1" stroke="#111" stroke-width="1.3" />
<text x="375.34" y="432.3" font-size="7.8" font-weight="bold" text-anchor="end" fill="#111" transform="rotate(-45 375.34 432.3)">EcAroL</text>
<line x1="395.28" y1="422.3" x2="395.28" y2="426.1" stroke="#111" stroke-width="1.3" />
<text x="398.28" y="432.3" font-size="7.8" font-weight="bold" text-anchor="end" fill="#111" transform="rotate(-45 398.28 432.3)">ARO2</text>
<line x1="418.22" y1="422.3" x2="418.22" y2="426.1" stroke="#111" stroke-width="1.3" />
<text x="421.22" y="432.3" font-size="7.8" font-weight="bold" text-anchor="end" fill="#111" transform="rotate(-45 421.22 432.3)">ARO7<tspan font-size="5.6" dy="-3.4">G141S</tspan></text>
<line x1="441.16" y1="422.3" x2="441.16" y2="426.1" stroke="#111" stroke-width="1.3" />
<text x="444.16" y="432.3" font-size="7.8" font-weight="bold" text-anchor="end" fill="#111" transform="rotate(-45 444.16 432.3)">PHA2</text>
<line x1="464.1" y1="422.3" x2="464.1" y2="426.1" stroke="#111" stroke-width="1.3" />
<text x="467.1" y="432.3" font-size="7.8" font-weight="bold" text-anchor="end" fill="#111" transform="rotate(-45 467.1 432.3)">TYR1</text>
<line x1="487.04" y1="422.3" x2="487.04" y2="426.1" stroke="#111" stroke-width="1.3" />
<text x="490.04" y="432.3" font-size="7.8" font-weight="bold" text-anchor="end" fill="#111" transform="rotate(-45 490.04 432.3)">TKL2</text>
<line x1="509.98" y1="422.3" x2="509.98" y2="426.1" stroke="#111" stroke-width="1.3" />
<text x="512.98" y="432.3" font-size="7.8" font-weight="bold" text-anchor="end" fill="#111" transform="rotate(-45 512.98 432.3)">TKL1</text>
<line x1="532.92" y1="422.3" x2="532.92" y2="426.1" stroke="#111" stroke-width="1.3" />
<text x="535.92" y="432.3" font-size="7.8" font-weight="bold" text-anchor="end" fill="#111" transform="rotate(-45 535.92 432.3)">PFK1</text>
<line x1="555.86" y1="422.3" x2="555.86" y2="426.1" stroke="#111" stroke-width="1.3" />
<text x="558.86" y="432.3" font-size="7.8" font-weight="bold" text-anchor="end" fill="#111" transform="rotate(-45 558.86 432.3)">PFK2</text>
<rect x="111.6" y="410.5" width="7.2" height="11.8" fill="#FDE2E2" stroke="#F07878" stroke-width="1.45"/>
<rect x="121.2" y="360.5" width="7.2" height="61.8" fill="#D0E3F8" stroke="#1C94B4" stroke-width="1.45"/>
<line x1="115.2" y1="408.5" x2="115.2" y2="412.5" stroke="#F07878" stroke-width="0.8" />
<line x1="113.6" y1="408.5" x2="116.8" y2="408.5" stroke="#F07878" stroke-width="0.8" />
<circle cx="115.2" cy="411.5" r="0.8" fill="#F07878"/>
<line x1="124.8" y1="353.5" x2="124.8" y2="367.5" stroke="#1C94B4" stroke-width="0.8" />
<line x1="123.2" y1="353.5" x2="126.4" y2="353.5" stroke="#1C94B4" stroke-width="0.8" />
<circle cx="124.8" cy="361.5" r="0.8" fill="#1C94B4"/>
<rect x="134.54" y="409" width="7.2" height="13.3" fill="#FDE2E2" stroke="#F07878" stroke-width="1.45"/>
<rect x="144.14" y="355" width="7.2" height="67.3" fill="#D0E3F8" stroke="#1C94B4" stroke-width="1.45"/>
<line x1="138.14" y1="406.5" x2="138.14" y2="411.5" stroke="#F07878" stroke-width="0.8" />
<line x1="136.54" y1="406.5" x2="139.74" y2="406.5" stroke="#F07878" stroke-width="0.8" />
<circle cx="138.14" cy="410" r="0.8" fill="#F07878"/>
<circle cx="147.74" cy="356" r="0.8" fill="#1C94B4"/>
<rect x="157.48" y="395.5" width="7.2" height="26.8" fill="#FDE2E2" stroke="#F07878" stroke-width="1.45"/>
<rect x="167.08" y="342" width="7.2" height="5.2" fill="#D0E3F8"/>
<path d="M167.08 347.2V342H174.28V347.2" fill="none" stroke="#1C94B4" stroke-width="1.45"/>
<rect x="167.08" y="352.4" width="7.2" height="69.9" fill="#D0E3F8"/>
<line x1="167.08" y1="352.4" x2="167.08" y2="422.3" stroke="#1C94B4" stroke-width="1.45" />
<line x1="174.28" y1="352.4" x2="174.28" y2="422.3" stroke="#1C94B4" stroke-width="1.45" />
<line x1="161.08" y1="392" x2="161.08" y2="399" stroke="#F07878" stroke-width="0.8" />
<line x1="159.48" y1="392" x2="162.68" y2="392" stroke="#F07878" stroke-width="0.8" />
<circle cx="161.08" cy="396.5" r="0.8" fill="#F07878"/>
<circle cx="170.68" cy="343" r="0.8" fill="#1C94B4"/>
<rect x="180.42" y="373" width="7.2" height="49.3" fill="#FDE2E2" stroke="#F07878" stroke-width="1.45"/>
<rect x="190.02" y="407.6" width="7.2" height="14.7" fill="#D0E3F8" stroke="#1C94B4" stroke-width="1.45"/>
<circle cx="184.02" cy="374" r="0.8" fill="#F07878"/>
<line x1="193.62" y1="400.6" x2="193.62" y2="414.6" stroke="#1C94B4" stroke-width="0.8" />
<line x1="192.02" y1="400.6" x2="195.22" y2="400.6" stroke="#1C94B4" stroke-width="0.8" />
<circle cx="193.62" cy="408.6" r="0.8" fill="#1C94B4"/>
<rect x="203.36" y="385" width="7.2" height="37.3" fill="#FDE2E2" stroke="#F07878" stroke-width="1.45"/>
<rect x="212.96" y="397.6" width="7.2" height="24.7" fill="#D0E3F8" stroke="#1C94B4" stroke-width="1.45"/>
<line x1="206.96" y1="382" x2="206.96" y2="388" stroke="#F07878" stroke-width="0.8" />
<line x1="205.36" y1="382" x2="208.56" y2="382" stroke="#F07878" stroke-width="0.8" />
<circle cx="206.96" cy="386" r="0.8" fill="#F07878"/>
<line x1="216.56" y1="384.6" x2="216.56" y2="410.6" stroke="#1C94B4" stroke-width="0.8" />
<line x1="214.96" y1="384.6" x2="218.16" y2="384.6" stroke="#1C94B4" stroke-width="0.8" />
<circle cx="216.56" cy="398.6" r="0.8" fill="#1C94B4"/>
<rect x="226.3" y="352.4" width="7.2" height="69.9" fill="#FDE2E2"/>
<line x1="226.3" y1="352.4" x2="226.3" y2="422.3" stroke="#F07878" stroke-width="1.45" />
<line x1="233.5" y1="352.4" x2="233.5" y2="422.3" stroke="#F07878" stroke-width="1.45" />
<line x1="226.6" y1="346.6" x2="233.2" y2="346.6" stroke="#F07878" stroke-width="0.9" />
<circle cx="227.6" cy="346.6" r="1.0" fill="#F07878"/>
<circle cx="229.9" cy="346.6" r="1.0" fill="#F07878"/>
<circle cx="232.2" cy="346.6" r="1.0" fill="#F07878"/>
<rect x="235.9" y="352.4" width="7.2" height="69.9" fill="#D0E3F8"/>
<line x1="235.9" y1="352.4" x2="235.9" y2="422.3" stroke="#1C94B4" stroke-width="1.45" />
<line x1="243.1" y1="352.4" x2="243.1" y2="422.3" stroke="#1C94B4" stroke-width="1.45" />
<line x1="236.2" y1="346.6" x2="242.8" y2="346.6" stroke="#1C94B4" stroke-width="0.9" />
<circle cx="237.2" cy="346.6" r="1.0" fill="#1C94B4"/>
<circle cx="239.5" cy="346.6" r="1.0" fill="#1C94B4"/>
<circle cx="241.8" cy="346.6" r="1.0" fill="#1C94B4"/>
<rect x="249.24" y="352.4" width="7.2" height="69.9" fill="#FDE2E2"/>
<line x1="249.24" y1="352.4" x2="249.24" y2="422.3" stroke="#F07878" stroke-width="1.45" />
<line x1="256.44" y1="352.4" x2="256.44" y2="422.3" stroke="#F07878" stroke-width="1.45" />
<line x1="249.54" y1="346.6" x2="256.14" y2="346.6" stroke="#F07878" stroke-width="0.9" />
<circle cx="250.54" cy="346.6" r="1.0" fill="#F07878"/>
<circle cx="252.84" cy="346.6" r="1.0" fill="#F07878"/>
<circle cx="255.14" cy="346.6" r="1.0" fill="#F07878"/>
<rect x="258.84" y="320" width="7.2" height="27.2" fill="#D0E3F8"/>
<path d="M258.84 347.2V320H266.04V347.2" fill="none" stroke="#1C94B4" stroke-width="1.45"/>
<rect x="258.84" y="352.4" width="7.2" height="69.9" fill="#D0E3F8"/>
<line x1="258.84" y1="352.4" x2="258.84" y2="422.3" stroke="#1C94B4" stroke-width="1.45" />
<line x1="266.04" y1="352.4" x2="266.04" y2="422.3" stroke="#1C94B4" stroke-width="1.45" />
<line x1="262.44" y1="318.5" x2="262.44" y2="321.5" stroke="#1C94B4" stroke-width="0.8" />
<line x1="260.84" y1="318.5" x2="264.04" y2="318.5" stroke="#1C94B4" stroke-width="0.8" />
<circle cx="262.44" cy="321" r="0.8" fill="#1C94B4"/>
<rect x="272.18" y="398" width="7.2" height="24.3" fill="#FDE2E2" stroke="#F07878" stroke-width="1.45"/>
<rect x="281.78" y="400" width="7.2" height="22.3" fill="#D0E3F8" stroke="#1C94B4" stroke-width="1.45"/>
<circle cx="275.78" cy="399" r="0.8" fill="#F07878"/>
<line x1="285.38" y1="394" x2="285.38" y2="406" stroke="#1C94B4" stroke-width="0.8" />
<line x1="283.78" y1="394" x2="286.98" y2="394" stroke="#1C94B4" stroke-width="0.8" />
<circle cx="285.38" cy="401" r="0.8" fill="#1C94B4"/>
<rect x="295.12" y="415.3" width="7.2" height="7" fill="#FDE2E2" stroke="#F07878" stroke-width="1.45"/>
<rect x="304.72" y="416.9" width="7.2" height="5.4" fill="#D0E3F8" stroke="#1C94B4" stroke-width="1.45"/>
<circle cx="298.72" cy="416.3" r="0.8" fill="#F07878"/>
<circle cx="308.32" cy="417.9" r="0.8" fill="#1C94B4"/>
<rect x="318.06" y="403.4" width="7.2" height="18.9" fill="#FDE2E2" stroke="#F07878" stroke-width="1.45"/>
<rect x="327.66" y="352.4" width="7.2" height="69.9" fill="#D0E3F8"/>
<line x1="327.66" y1="352.4" x2="327.66" y2="422.3" stroke="#1C94B4" stroke-width="1.45" />
<line x1="334.86" y1="352.4" x2="334.86" y2="422.3" stroke="#1C94B4" stroke-width="1.45" />
<line x1="327.96" y1="346.6" x2="334.56" y2="346.6" stroke="#1C94B4" stroke-width="0.9" />
<circle cx="328.96" cy="346.6" r="1.0" fill="#1C94B4"/>
<circle cx="331.26" cy="346.6" r="1.0" fill="#1C94B4"/>
<circle cx="333.56" cy="346.6" r="1.0" fill="#1C94B4"/>
<line x1="321.66" y1="401.9" x2="321.66" y2="404.9" stroke="#F07878" stroke-width="0.8" />
<line x1="320.06" y1="401.9" x2="323.26" y2="401.9" stroke="#F07878" stroke-width="0.8" />
<circle cx="321.66" cy="404.4" r="0.8" fill="#F07878"/>
<rect x="341" y="417.8" width="7.2" height="4.5" fill="#FDE2E2" stroke="#F07878" stroke-width="1.45"/>
<rect x="350.6" y="414.6" width="7.2" height="7.7" fill="#D0E3F8" stroke="#1C94B4" stroke-width="1.45"/>
<circle cx="344.6" cy="418.8" r="0.8" fill="#F07878"/>
<circle cx="354.2" cy="415.6" r="0.8" fill="#1C94B4"/>
<rect x="363.94" y="406.6" width="7.2" height="15.7" fill="#FDE2E2" stroke="#F07878" stroke-width="1.45"/>
<rect x="373.54" y="360" width="7.2" height="62.3" fill="#D0E3F8" stroke="#1C94B4" stroke-width="1.45"/>
<circle cx="367.54" cy="407.6" r="0.8" fill="#F07878"/>
<line x1="377.14" y1="347" x2="377.14" y2="373" stroke="#1C94B4" stroke-width="0.8" />
<line x1="375.54" y1="347" x2="378.74" y2="347" stroke="#1C94B4" stroke-width="0.8" />
<circle cx="377.14" cy="361" r="0.8" fill="#1C94B4"/>
<rect x="386.88" y="412" width="7.2" height="10.3" fill="#FDE2E2" stroke="#F07878" stroke-width="1.45"/>
<rect x="396.48" y="414.6" width="7.2" height="7.7" fill="#D0E3F8" stroke="#1C94B4" stroke-width="1.45"/>
<circle cx="390.48" cy="413" r="0.8" fill="#F07878"/>
<circle cx="400.08" cy="415.6" r="0.8" fill="#1C94B4"/>
<rect x="409.82" y="419.4" width="7.2" height="2.9" fill="#FDE2E2" stroke="#F07878" stroke-width="1.45"/>
<rect x="419.42" y="417.2" width="7.2" height="5.1" fill="#D0E3F8" stroke="#1C94B4" stroke-width="1.45"/>
<circle cx="413.42" cy="420.4" r="0.8" fill="#F07878"/>
<circle cx="423.02" cy="418.2" r="0.8" fill="#1C94B4"/>
<rect x="432.76" y="420.4" width="7.2" height="1.9" fill="#FDE2E2" stroke="#F07878" stroke-width="1.45"/>
<rect x="442.36" y="420.4" width="7.2" height="1.9" fill="#D0E3F8" stroke="#1C94B4" stroke-width="1.45"/>
<circle cx="436.36" cy="421.4" r="0.8" fill="#F07878"/>
<circle cx="445.96" cy="421.4" r="0.8" fill="#1C94B4"/>
<rect x="455.7" y="420.4" width="7.2" height="1.9" fill="#FDE2E2" stroke="#F07878" stroke-width="1.45"/>
<rect x="465.3" y="420.4" width="7.2" height="1.9" fill="#D0E3F8" stroke="#1C94B4" stroke-width="1.45"/>
<circle cx="459.3" cy="421.4" r="0.8" fill="#F07878"/>
<circle cx="468.9" cy="421.4" r="0.8" fill="#1C94B4"/>
<rect x="478.64" y="401.8" width="7.2" height="20.5" fill="#FDE2E2" stroke="#F07878" stroke-width="1.45"/>
<rect x="488.24" y="392.8" width="7.2" height="29.5" fill="#D0E3F8" stroke="#1C94B4" stroke-width="1.45"/>
<line x1="482.24" y1="400.3" x2="482.24" y2="403.3" stroke="#F07878" stroke-width="0.8" />
<line x1="480.64" y1="400.3" x2="483.84" y2="400.3" stroke="#F07878" stroke-width="0.8" />
<circle cx="482.24" cy="402.8" r="0.8" fill="#F07878"/>
<line x1="491.84" y1="382.8" x2="491.84" y2="402.8" stroke="#1C94B4" stroke-width="0.8" />
<line x1="490.24" y1="382.8" x2="493.44" y2="382.8" stroke="#1C94B4" stroke-width="0.8" />
<circle cx="491.84" cy="393.8" r="0.8" fill="#1C94B4"/>
<rect x="501.58" y="398.6" width="7.2" height="23.7" fill="#FDE2E2" stroke="#F07878" stroke-width="1.45"/>
<rect x="511.18" y="410.8" width="7.2" height="11.5" fill="#D0E3F8" stroke="#1C94B4" stroke-width="1.45"/>
<circle cx="505.18" cy="399.6" r="0.8" fill="#F07878"/>
<line x1="514.78" y1="406.8" x2="514.78" y2="414.8" stroke="#1C94B4" stroke-width="0.8" />
<line x1="513.18" y1="406.8" x2="516.38" y2="406.8" stroke="#1C94B4" stroke-width="0.8" />
<circle cx="514.78" cy="411.8" r="0.8" fill="#1C94B4"/>
<rect x="524.52" y="391.2" width="7.2" height="31.1" fill="#FDE2E2" stroke="#F07878" stroke-width="1.45"/>
<rect x="534.12" y="398" width="7.2" height="24.3" fill="#D0E3F8" stroke="#1C94B4" stroke-width="1.45"/>
<circle cx="528.12" cy="392.2" r="0.8" fill="#F07878"/>
<line x1="537.72" y1="392" x2="537.72" y2="404" stroke="#1C94B4" stroke-width="0.8" />
<line x1="536.12" y1="392" x2="539.32" y2="392" stroke="#1C94B4" stroke-width="0.8" />
<circle cx="537.72" cy="399" r="0.8" fill="#1C94B4"/>
<rect x="547.46" y="395.4" width="7.2" height="26.9" fill="#FDE2E2" stroke="#F07878" stroke-width="1.45"/>
<rect x="557.06" y="400.2" width="7.2" height="22.1" fill="#D0E3F8" stroke="#1C94B4" stroke-width="1.45"/>
<circle cx="551.06" cy="396.4" r="0.8" fill="#F07878"/>
<line x1="560.66" y1="394.2" x2="560.66" y2="406.2" stroke="#1C94B4" stroke-width="0.8" />
<line x1="559.06" y1="394.2" x2="562.26" y2="394.2" stroke="#1C94B4" stroke-width="0.8" />
<circle cx="560.66" cy="401.2" r="0.8" fill="#1C94B4"/>
<line x1="222.7" y1="282" x2="222.7" y2="422.3" stroke="#222" stroke-width="0.9" stroke-dasharray="0.9 0.7"/>
<line x1="291.4" y1="282" x2="291.4" y2="422.3" stroke="#222" stroke-width="0.9" stroke-dasharray="0.9 0.7"/>
<line x1="475.4" y1="282" x2="475.4" y2="422.3" stroke="#222" stroke-width="0.9" stroke-dasharray="0.9 0.7"/>
<text x="164.1" y="287.4" font-size="7" text-anchor="middle" font-weight="bold" font-style="normal" fill="#111" stroke="#111" stroke-width="0.06" >Module B</text>
<text x="258.5" y="287.9" font-size="7" text-anchor="middle" font-weight="bold" font-style="normal" fill="#111" stroke="#111" stroke-width="0.06" >Module C</text>
<text x="387" y="288" font-size="7" text-anchor="middle" font-weight="bold" font-style="normal" fill="#111" stroke="#111" stroke-width="0.06" >Module A</text>
<text x="524.5" y="287.3" font-size="7" text-anchor="middle" font-weight="bold" font-style="normal" fill="#111" stroke="#111" stroke-width="0.06" >Central carbon</text>
<text x="524.5" y="296" font-size="7" text-anchor="middle" font-weight="bold" font-style="normal" fill="#111" stroke="#111" stroke-width="0.06" >metabolism</text>
<polyline points="115.6,407 115.6,320.8 124.6,320.8 124.6,346.2" fill="none" stroke="#111" stroke-width="1"/>
<text x="120.1" y="316.6" font-size="5.9" text-anchor="middle" font-weight="normal" font-style="normal" fill="#111" stroke="#111" stroke-width="0.09" >0.0119</text>
<polyline points="138.2,405.5 138.2,320.8 147.7,320.8 147.7,346.2" fill="none" stroke="#111" stroke-width="1"/>
<text x="142.95" y="316.6" font-size="5.9" text-anchor="middle" font-weight="normal" font-style="normal" fill="#111" stroke="#111" stroke-width="0.09" >0.0053</text>
<polyline points="161.3,392 161.3,320.8 170.5,320.8 170.5,337" fill="none" stroke="#111" stroke-width="1"/>
<text x="165.9" y="316.6" font-size="5.9" text-anchor="middle" font-weight="normal" font-style="normal" fill="#111" stroke="#111" stroke-width="0.09" >&lt;0.0001</text>
<polyline points="252.8,340 252.8,306.3 262.8,306.3 262.8,311.9" fill="none" stroke="#111" stroke-width="1"/>
<text x="257.8" y="302.3" font-size="5.9" text-anchor="middle" font-weight="normal" font-style="normal" fill="#111" stroke="#111" stroke-width="0.09" >&lt;0.0001</text>
<polyline points="321.9,400 321.9,306.3 331,306.3 331,341" fill="none" stroke="#111" stroke-width="1"/>
<text x="326.45" y="302.3" font-size="5.9" text-anchor="middle" font-weight="normal" font-style="normal" fill="#111" stroke="#111" stroke-width="0.09" >0.0008</text>
<polyline points="367.8,405 367.8,306.3 377.4,306.3 377.4,342.5" fill="none" stroke="#111" stroke-width="1"/>
<text x="372.6" y="302.3" font-size="5.9" text-anchor="middle" font-weight="normal" font-style="normal" fill="#111" stroke="#111" stroke-width="0.09" >0.0219</text>
<rect x="425.8" y="318.6" width="9" height="3.8" fill="#FDE2E2" stroke="#F07878" stroke-width="1.2" />
<text x="440.6" y="322.6" font-size="7.8" text-anchor="start" font-weight="normal" font-style="normal" fill="#111" stroke="#111" stroke-width="0.12" >LIG06</text>
<rect x="425.8" y="328.3" width="9" height="3.8" fill="#D0E3F8" stroke="#1C94B4" stroke-width="1.2" />
<text x="440.6" y="332.3" font-size="7.8" text-anchor="start" font-weight="normal" font-style="normal" fill="#111" stroke="#111" stroke-width="0.12" >LIG09</text>
</svg></body></html>
